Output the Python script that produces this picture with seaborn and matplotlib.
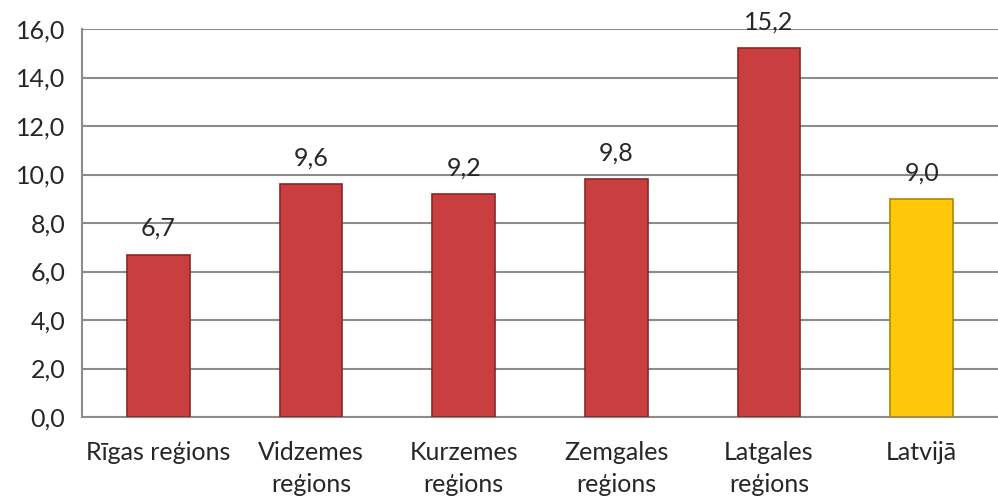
import numpy as np
import pandas as pd
import matplotlib
matplotlib.use("Agg")
import matplotlib.pyplot as plt
import seaborn as sns

# data
regions = ["Rīgas reģions", "Vidzemes\nreģions", "Kurzemes\nreģions",
           "Zemgales\nreģions", "Latgales\nreģions", "Latvijā"]
values = [6.7, 9.6, 9.2, 9.8, 15.2, 9.0]
labels = ["6,7", "9,6", "9,2", "9,8", "15,2", "9,0"]
kinds = ["region", "region", "region", "region", "region", "total"]

df = pd.DataFrame({"region": regions, "value": values, "kind": kinds})

sns.set_style("white")
plt.rcParams["font.family"] = ["Lato", "DejaVu Sans"]

fig = plt.figure(figsize=(9.98, 4.97), dpi=100)
ax = fig.add_axes([82 / 998, 80 / 497, 916 / 998, 388 / 497])

sns.barplot(data=df, x="region", y="value", hue="kind",
            palette={"region": "#C93F3F", "total": "#FFC80A"},
            saturation=1, width=0.41, legend=False, ax=ax, zorder=3)

# darker edges to hint at the bevelled bars
for patch, k in zip(ax.patches, kinds):
    patch.set_edgecolor("#8A2626" if k == "region" else "#B08600")
    patch.set_linewidth(1.2)

ax.set_ylim(0, 16)
ax.set_xlim(-0.5, 5.43)
ax.set_yticks(np.arange(0, 16.1, 2))
ax.set_yticklabels([f"{v:.1f}".replace(".", ",") for v in np.arange(0, 16.1, 2)])
ax.yaxis.grid(True, color="#8C8C8C", linewidth=1.5, zorder=0)
ax.set_axisbelow(True)

# category labels centred, tick marks on category boundaries
ax.set_xticks(range(len(regions)))
ax.set_xticklabels(regions, linespacing=1.5)
ax.set_xticks(np.arange(-0.5, len(regions), 1), minor=True)
ax.tick_params(axis="x", which="major", length=0, pad=17, labelsize=18)
ax.tick_params(axis="x", which="minor", length=6, color="#8C8C8C", width=1.3)
ax.tick_params(axis="y", length=7, color="#8C8C8C", width=1.3, labelsize=18, pad=5)

for s in ["top", "right"]:
    ax.spines[s].set_visible(False)
for s in ["left", "bottom"]:
    ax.spines[s].set_color("#8C8C8C")
    ax.spines[s].set_linewidth(1.5)

for i, (v, t) in enumerate(zip(values, labels)):
    ax.text(i, v + 0.6, t, ha="center", va="bottom", fontsize=18)

ax.set_xlabel("")
ax.set_ylabel("")

fig.savefig("out.png", dpi=100)
